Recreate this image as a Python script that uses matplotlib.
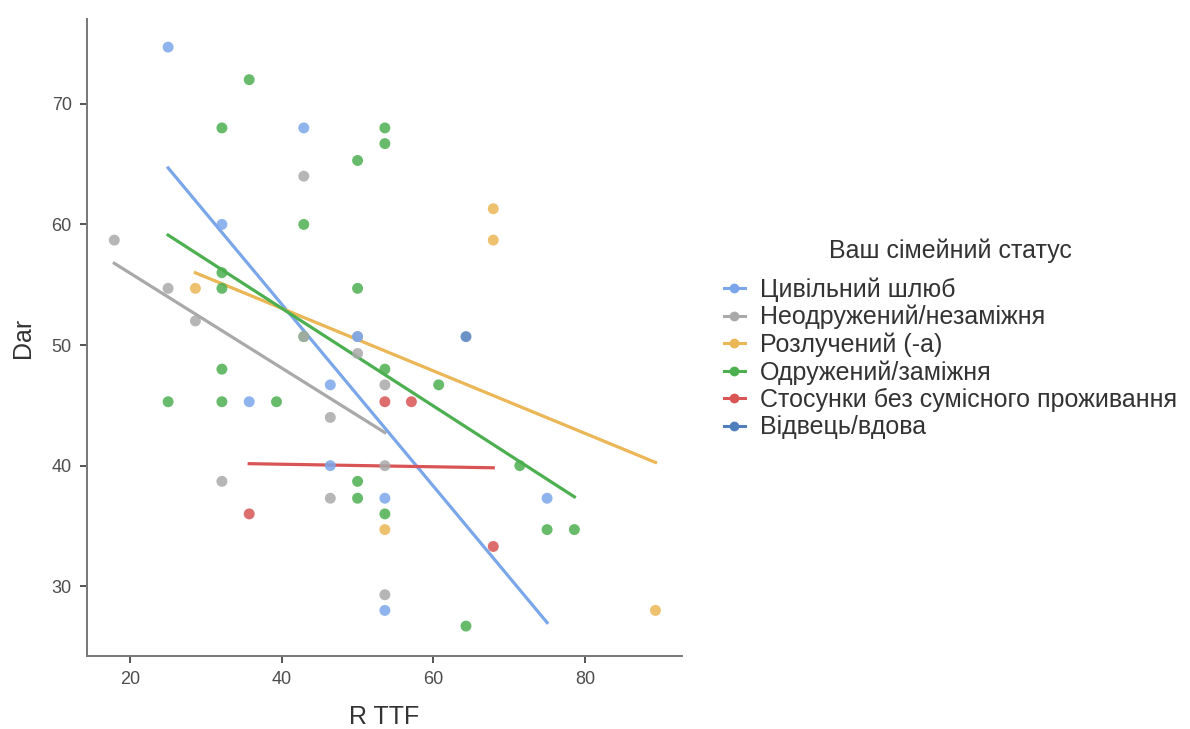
import matplotlib.pyplot as plt
import numpy as np
from matplotlib.lines import Line2D

plt.rcParams['font.family'] = ['Liberation Sans', 'DejaVu Sans']

# групи (сімейний статус) і точки кожної групи
groups = ['Цивільний шлюб', 'Неодружений/незаміжня', 'Розлучений (-а)',
          'Одружений/заміжня', 'Стосунки без сумісного проживання', 'Відвець/вдова']
colors = ['#7aa6ea', '#a9a9a9', '#ebb655', '#4caf50', '#d95454', '#4f7fbd']

civil_x = [25, 42.9, 32.1, 46.4, 35.7, 46.4, 53.6, 53.6, 75, 50]
civil_y = [74.7, 68, 60, 46.7, 45.3, 40, 37.3, 28, 37.3, 50.7]

single_x = [42.9, 17.9, 25, 28.6, 42.9, 50, 53.6, 46.4, 53.6, 32.1, 46.4, 53.6, 50]
single_y = [64, 58.7, 54.7, 52, 50.7, 49.3, 46.7, 44, 40, 38.7, 37.3, 29.3, 50.7]

divorced_x = [28.6, 67.9, 67.9, 53.6, 89.3]
divorced_y = [54.7, 61.3, 58.7, 34.7, 28]

married_x = [35.7, 32.1, 53.6, 53.6, 50, 42.9, 32.1, 32.1, 50, 32.1, 53.6, 25,
             32.1, 39.3, 60.7, 71.4, 50, 50, 53.6, 75, 78.6, 64.3, 42.9]
married_y = [72, 68, 68, 66.7, 65.3, 60, 56, 54.7, 54.7, 48, 48, 45.3,
             45.3, 45.3, 46.7, 40, 38.7, 37.3, 36, 34.7, 34.7, 26.7, 50.7]

apart_x = [35.7, 53.6, 57.1, 67.9]
apart_y = [36, 45.3, 45.3, 33.3]

widow_x = [64.3]
widow_y = [50.7]

xs = [civil_x, single_x, divorced_x, married_x, apart_x, widow_x]
ys = [civil_y, single_y, divorced_y, married_y, apart_y, widow_y]

fig = plt.figure(figsize=(11.9, 7.29), dpi=100)
ax = fig.add_axes([87/1190, 1 - 656/729, (682-87)/1190, (656-19)/729])

# точки: перші групи малюються поверх останніх
for i, (x, y, c) in enumerate(zip(xs, ys, colors)):
    ax.scatter(x, y, s=62, color=c, alpha=0.85, edgecolors='none', zorder=10 - i)

# лінійна регресія для кожної групи
for x, y, c in zip(xs, ys, colors):
    x = np.array(x)
    y = np.array(y)
    if len(x) > 1:
        k, b = np.polyfit(x, y, 1)
        xl = np.array([x.min(), x.max()])
        ax.plot(xl, k*xl + b, color=c, lw=2.3, zorder=2)

ax.set_xlim(14.3, 92.8)
ax.set_ylim(24.22, 77.03)
ax.set_xticks([20, 40, 60, 80])
ax.set_yticks([30, 40, 50, 60, 70])
for s in ['top', 'right']:
    ax.spines[s].set_visible(False)
for s in ['left', 'bottom']:
    ax.spines[s].set_color('#777777')
    ax.spines[s].set_linewidth(1.4)
ax.tick_params(colors='#555555', labelcolor='#4d4d4d', labelsize=13, length=5, width=1.4, pad=6)
ax.set_xlabel('R TTF', fontsize=18, color='#333333', labelpad=12)
ax.set_ylabel('Dar', fontsize=18, color='#333333', labelpad=12)

handles = [Line2D([], [], color=c, marker='o', markersize=6, lw=2.2) for c in colors]
leg = fig.legend(handles, groups, title='Ваш сімейний статус', loc='center left',
                 bbox_to_anchor=(701/1190, 1 - 339/729), frameon=False, fontsize=18,
                 title_fontsize=18, handlelength=0.85, handletextpad=0.6,
                 labelspacing=0.13, labelcolor='#333333')
leg.get_title().set_color('#333333')
leg._legend_box.sep = 10

fig.savefig('out.png', dpi=100)
